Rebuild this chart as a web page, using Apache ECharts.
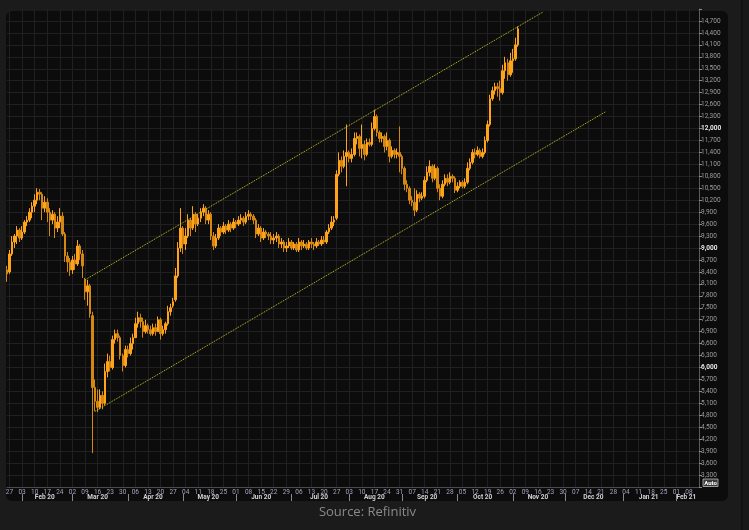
<!DOCTYPE html>
<html><head><meta charset="utf-8">
<script src="https://cdn.jsdelivr.net/npm/echarts@6/dist/echarts.min.js"></script>
<style>html,body{margin:0;padding:0;background:#1b1b1b;}#c{width:749px;height:530px;}</style>
</head><body><div id="c"></div>
<script>
// ---- data ----
const firstDay = '2020-01-24';
const lastDay = '2021-02-12';
const monthNames = ['Jan','Feb','Mar','Apr','May','Jun','Jul','Aug','Sep','Oct','Nov','Dec'];
const yTicksMin = 3000, yTicksMax = 15000, yTickStep = 300;

const opens = [8450,
 8400,8850,9150,9300,9450, 9250,9400,9650,9700,9900, 10050,10200,10400,10350,10000,
 10150,9900,9700,9850,9500, 9650,9800,9350,8800,8650, 8450,8700,8600,9050,8850,
 8200,7900,8050,7300,5500, 5150,5000,5300,5100,5900, 6150,6000,6700,6850,6750,
 6300,6050,6450,6350,6600, 6750,7100,7250,7150,6900, 7050,6950,6850,7000,6900,
 7200,6850,6950,7100,7400, 7550,7700,8300,9000,9500, 9100,9300,9700,9500,9850,
 9600,9750,9900,10000,9700, 9850,9300,9050,9250,9500, 9400,9550,9450,9600,9500,
 9650,9600,9700,9750,9650, 9800,9850,9800,9700,9350, 9500,9250,9400,9350,9300,
 9200,9250,9300,9100,9150, 9000,9050,9150,9000,9100, 8950,9150,9050,9100,9000,
 9150,9100,9050,9150,9100, 9200,9150,9400,9500,9650, 9750,10850,11200,11050,11300,
 11400,11250,11350,11750,11800, 11500,11600,11350,11650,11600, 12000,12300,11900,11750,11800,
 11550,11700,11300,11450,11350, 11400,11300,11000,10600,10500, 10200,10150,9950,10350,10250,
 10300,10700,10900,11050,10750, 11000,10500,10300,10600,10750, 10650,10800,10750,10450,10550,
 10650,10550,10650,11000,11150, 11400,11350,11450,11300,11400, 11700,12100,12750,12950,13050,
 13000,12900,13450,13650,13350, 13700,13750,14100];

const closes = [8350,
 8850,9150,9300,9450,9250, 9400,9650,9700,9900,10050, 10200,10400,10350,10000,10150,
 9900,9700,9850,9500,9650, 9800,9350,8800,8650,8450, 8700,8600,9050,8850,8550,
 7900,8050,7350,5500,5150, 5000,5300,5100,5900,6150, 6000,6700,6850,6750,6300,
 6050,6450,6350,6600,6750, 7100,7250,7150,6900,7050, 6950,6850,7000,6900,7200,
 6850,6950,7100,7400,7500, 7650,8300,9000,9500,9100, 9300,9700,9500,9850,9600,
 9750,9900,10000,9700,9850, 9300,9050,9250,9500,9400, 9550,9450,9600,9500,9650,
 9600,9700,9750,9650,9800, 9850,9800,9700,9350,9500, 9250,9400,9350,9300,9200,
 9250,9300,9100,9150,9000, 9050,9150,9000,9100,8950, 9150,9050,9100,9000,9150,
 9100,9050,9150,9100,9200, 9150,9400,9500,9650,9700, 10850,11200,11050,11300,11400,
 11250,11350,11750,11800,11500, 11600,11350,11650,11600,12000, 12300,11900,11750,11800,11550,
 11700,11300,11450,11350,11400, 11300,11000,10600,10500,10200, 10150,9950,10350,10250,10300,
 10700,10900,11050,10750,11000, 10500,10300,10600,10750,10650, 10800,10750,10450,10550,10650,
 10550,10650,11000,11150,11400, 11350,11450,11300,11400,11700, 12100,12750,12950,13050,13000,
 12900,13450,13650,13350,13700, 13750,14100,14501.58];

const lows = [8150,
 8350,8800,9000,9100,9150, 9200,9350,9550,9650,9750, 9900,10100,10200,9700,9900,
 9650,9300,9600,9250,9400, 9500,9300,8650,8400,8300, 8350,8450,8550,8700,8250,
 7700,7550,7250,3850,4900, 4880,4950,4950,5050,5750, 5900,5950,6600,6650,6200,
 5900,6000,6250,6300,6450, 6750,7000,7000,6750,6850, 6850,6800,6800,6800,6900,
 6700,6800,6850,7050,7300, 7500,7650,8250,8900,8850, 8950,9250,9300,9450,9400,
 9550,9650,9800,9600,9600, 9200,8950,9000,9200,9300, 9350,9350,9400,9400,9450,
 9500,9550,9600,9550,9600, 9700,9700,9600,9250,9300, 9150,9200,9250,9200,9100,
 9100,9150,9000,9000,8900, 8900,9000,8950,8950,8900, 8900,8950,9000,8950,8950,
 9000,8950,9000,9050,9050, 9100,9100,9350,9450,9550, 9700,10800,10900,11000,10550,
 11150,11150,11300,11600,11300, 11250,11200,11300,11550,11550, 11950,11800,11650,11650,11400,
 11450,11150,11250,11250,11250, 10900,10850,10450,10400,10100, 10050,9800,9900,10150,10200,
 10250,10650,10800,10650,10700, 10400,10200,10250,10550,10550, 10600,10650,10380,10400,10500,
 10500,10500,10600,10950,11100, 11250,11300,11250,11250,11350, 11650,12050,12700,12850,12800,
 12700,12850,13250,13200,13300, 13400,13700,14050];

const highs = [8550,
 8950,9300,9350,9550,9500, 9550,9700,9800,10000,10150, 10350,10500,10480,10400,10300,
 10250,10000,9950,9900,9800, 10000,9900,9400,8900,8750, 8800,8850,9200,9100,8950,
 8250,8200,8100,7400,5700, 5450,5450,5400,6100,6350, 6300,6800,6950,6950,6800,
 6350,6550,6550,6750,6850, 7250,7400,7350,7250,7200, 7100,7050,7100,7100,7280,
 7250,7050,7150,7550,7600, 7750,8500,9150,10000,9550, 9500,9850,9750,10050,9900,
 9850,10000,10100,10050,9950, 9900,9400,9350,9600,9550, 9650,9600,9700,9650,9750,
 9700,9800,9850,9800,9900, 9950,9900,9850,9750,9600, 9550,9500,9450,9400,9400,
 9350,9400,9350,9250,9200, 9150,9250,9200,9150,9150, 9250,9200,9200,9150,9200,
 9250,9150,9250,9200,9300, 9300,9450,9600,9800,9800, 10950,11400,11300,11450,12100,
 11450,11500,11900,11900,11850, 12100,11700,11750,11750,12150, 12470,12350,11950,11900,11850,
 11900,11750,11550,11500,11500, 12050,11350,11050,10700,10550, 10300,10500,10450,10400,10400,
 10800,11050,11200,11100,11100, 11050,10600,10700,10850,10850, 10900,10850,10800,10650,10700,
 10700,10750,11150,11250,11480, 11500,11550,11500,11500,11800, 12200,12850,13050,13150,13150,
 13200,13600,13800,13750,13900, 14000,14280,14560];

const lastPrice = 14501.58;
const upperChannel = [['2020-03-09', 8200], ['2020-11-18', 14925]];
const lowerChannel = [['2020-03-13', 4900], ['2020-12-23', 12425]];

// ---- build categories (weekdays) ----
const dates = [];
(function(){
  const s = firstDay.split('-').map(Number), e = lastDay.split('-').map(Number);
  let t = Date.UTC(s[0], s[1]-1, s[2]); const end = Date.UTC(e[0], e[1]-1, e[2]);
  while (t <= end) {
    const d = new Date(t);
    const wd = d.getUTCDay();
    if (wd !== 0 && wd !== 6) dates.push(d.toISOString().slice(0,10));
    t += 86400000;
  }
})();
const dow = s => new Date(s + 'T00:00:00Z').getUTCDay();
const mondayIdx = new Set(), monthFirstIdx = new Set(), monthMidIdx = new Set();
const monthRanges = {};
dates.forEach((d, i) => {
  if (dow(d) === 1) mondayIdx.add(i);
  const key = d.slice(0,7);
  if (!monthRanges[key]) { monthRanges[key] = [i, i]; if (i > 0) monthFirstIdx.add(i); }
  monthRanges[key][1] = i;
});
Object.keys(monthRanges).forEach(k => {
  const r = monthRanges[k];
  if (r[0] > 0) monthMidIdx.add(Math.floor((r[0]+r[1])/2));
});

const candles = opens.map((o, i) => [o, closes[i], lows[i], highs[i]]);
const fmt = v => v.toLocaleString('en-US');

const chart = echarts.init(document.getElementById('c'), null, {renderer: 'canvas'});
chart.setOption({
  animation: false,
  backgroundColor: '#1b1b1b',
  textStyle: {fontFamily: 'Roboto, DejaVu Sans, sans-serif'},
  grid: {left: 7, right: 50, top: 9, bottom: 43},
  graphic: [
    {type: 'rect', z: -10, silent: true, shape: {x: 6, y: 11, width: 722, height: 490, r: 6}, style: {fill: '#0c0c0c'}},
    {type: 'rect', z: -10, silent: true, shape: {x: 741, y: 0, width: 8, height: 530}, style: {fill: '#181818'}},
    {type: 'rect', z: -9, silent: true, shape: {x: 741, y: 0, width: 1.5, height: 530}, style: {fill: '#0e0e0e'}},
    {type: 'rect', z: 100, silent: true, shape: {x: 703, y: 479, width: 15, height: 7.5}, style: {fill: '#3a3a3a', stroke: '#bbbbbb', lineWidth: 0.8}},
    {type: 'text', z: 101, silent: true, style: {x: 710.5, y: 483, text: 'Auto', fill: '#ffffff', font: 'bold 6px Roboto, sans-serif', textAlign: 'center', textVerticalAlign: 'middle'}},
    {type: 'text', silent: true, style: {x: 367.5, y: 512, text: 'Source: Refinitiv', fill: '#8a8a8a', font: '13px "Open Sans", sans-serif', textAlign: 'center', textVerticalAlign: 'middle'}}
  ],
  xAxis: [
    {
      type: 'category', data: dates, boundaryGap: false,
      axisLine: {lineStyle: {color: '#4a4a4a'}},
      axisTick: {show: false},
      axisLabel: {
        interval: (i) => mondayIdx.has(i),
        formatter: v => v.slice(8,10),
        fontSize: 6.5, color: '#a6a2c2', margin: 2
      },
      splitLine: {show: true, interval: (i) => mondayIdx.has(i), lineStyle: {color: '#202020', width: 1}}
    },
    {
      type: 'category', data: dates, boundaryGap: false, position: 'bottom', offset: 7,
      axisLine: {show: false},
      axisTick: {show: true, interval: (i) => monthFirstIdx.has(i), length: 7, lineStyle: {color: '#8a8a8a'}},
      axisLabel: {
        interval: (i) => monthMidIdx.has(i),
        formatter: v => monthNames[+v.slice(5,7) - 1] + ' ' + v.slice(2,4),
        fontSize: 6.5, fontWeight: 'bold', color: '#d2d2d2', margin: 0
      },
      splitLine: {show: false}
    }
  ],
  yAxis: {
    type: 'value', position: 'right', min: yTicksMin, max: yTicksMax, interval: yTickStep,
    axisLine: {show: true, lineStyle: {color: '#5a5a5a'}},
    axisTick: {show: true, length: 3, lineStyle: {color: '#8a8a8a'}},
    axisLabel: {
      margin: 2, fontSize: 6.5, color: '#9c9c9c',
      formatter: v => (v === yTicksMin || v === yTicksMax) ? '' : (v % 3000 === 0 ? '{b|' + fmt(v) + '}' : fmt(v)),
      rich: {b: {fontSize: 6.5, fontWeight: 'bold', color: '#e6e6e6'}}
    },
    splitLine: {show: true, showMaxLine: false, lineStyle: {color: '#202020'}}
  },
  series: [{
    type: 'candlestick', xAxisIndex: 0, data: candles, barWidth: 2,
    itemStyle: {color: '#ffa41a', color0: '#d48812', borderColor: '#ffa41a', borderColor0: '#d48812', borderWidth: 1},
    markLine: {
      silent: true, animation: false, symbol: ['none', 'none'],
      lineStyle: {type: 'dotted', color: '#cbc62a', width: 1},
      label: {show: false},
      data: [
        [{coord: upperChannel[0]}, {coord: upperChannel[1]}],
        [{coord: lowerChannel[0]}, {coord: lowerChannel[1]}],
        {yAxis: lastPrice, lineStyle: {opacity: 0},
         label: {show: true, position: 'end', distance: 1,
                 formatter: () => lastPrice.toLocaleString('en-US', {minimumFractionDigits: 2}),
                 backgroundColor: '#f5a21b', color: '#111', fontSize: 6.5, fontWeight: 'bold', padding: [1, 2, 1, 2]}}
      ]
    }
  }]
});
</script>
</body></html>
